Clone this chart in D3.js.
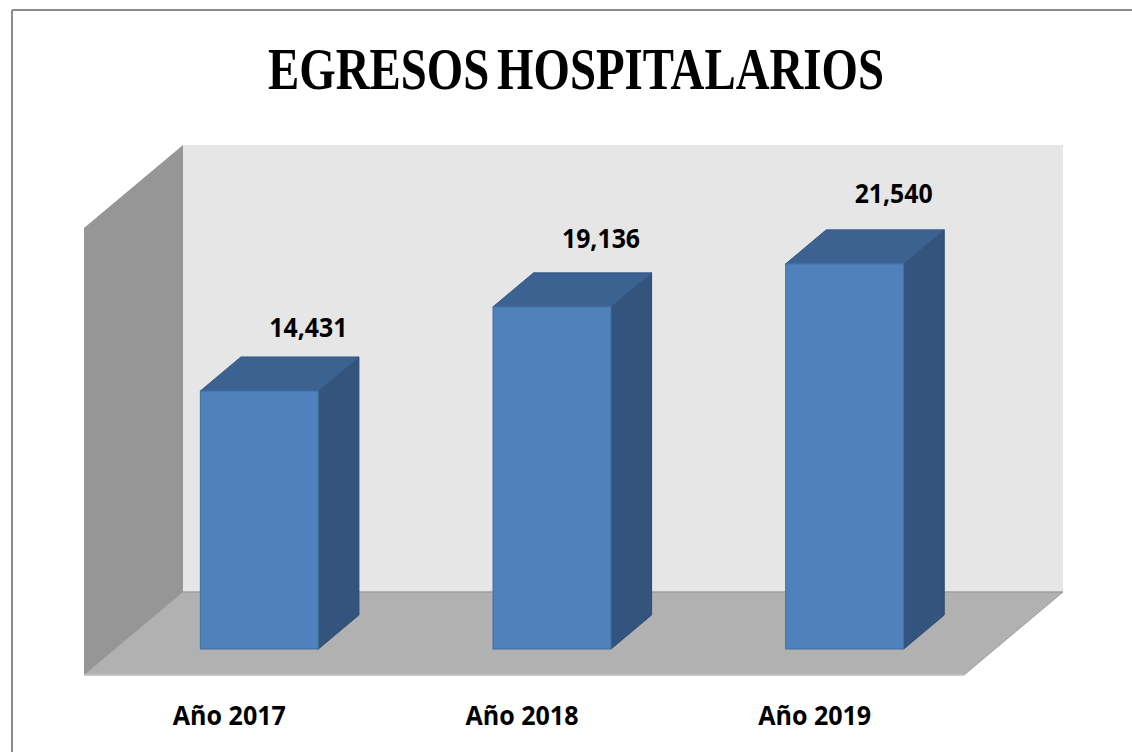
<!DOCTYPE html>
<html>
<head>
<meta charset="utf-8">
<script src="https://cdn.jsdelivr.net/npm/d3@7"></script>
<style>
  html, body { margin: 0; padding: 0; background: #ffffff; }
  svg { display: block; }
</style>
</head>
<body>
<svg id="chart" width="1132" height="752"></svg>
<script>
// ---- data ----
const categories = ["Año 2017", "Año 2018", "Año 2019"];
const values = [14431, 19136, 21540];
const valueLabels = ["14,431", "19,136", "21,540"];
const title = "EGRESOS HOSPITALARIOS";
const axisMax = 25000;

// ---- geometry ----
const W = 1132, H = 752;
const svg = d3.select("#chart");

const frontLeft = 84, frontRight = 964, frontY = 675;
const depthDx = 99, depthDy = -83;
const backLeft = frontLeft + depthDx, backRight = frontRight + depthDx, backY = frontY + depthDy;

const yBack = d3.scaleLinear().domain([0, axisMax]).range([backY, 145]);
const pxPerUnit = (yBack(0) - yBack(1));

const f0 = 26 / 83, f1 = 60 / 83;
const barW = 118;

const x = d3.scalePoint().domain(categories).range([82, 960]).padding(0.5);
const labelY = d3.scaleLinear().domain([0, axisMax]).range([609, 138]);

// ---- frame ----
svg.append("line").attr("x1", 12).attr("y1", 10).attr("x2", W).attr("y2", 10)
  .attr("stroke", "#8c8c8c").attr("stroke-width", 2);
svg.append("line").attr("x1", 12).attr("y1", 10).attr("x2", 12).attr("y2", H)
  .attr("stroke", "#8c8c8c").attr("stroke-width", 2);

// ---- title ----
svg.append("text")
  .attr("x", 576).attr("y", 89)
  .attr("text-anchor", "middle")
  .attr("font-family", "'Liberation Serif', 'DejaVu Serif', serif")
  .attr("font-weight", "bold")
  .attr("font-size", 60)
  .attr("word-spacing", -5)
  .attr("textLength", 616)
  .attr("lengthAdjust", "spacingAndGlyphs")
  .attr("fill", "#000")
  .text(title);

// ---- walls ----
const pts = a => a.map(p => p.join(",")).join(" ");
svg.append("polygon")
  .attr("points", pts([[backLeft, yBack(axisMax)], [backRight, yBack(axisMax)], [backRight, backY], [backLeft, backY]]))
  .attr("fill", "#e6e6e6");
svg.append("polygon")
  .attr("points", pts([[frontLeft, yBack(axisMax) - depthDy], [backLeft, yBack(axisMax)], [backLeft, backY], [frontLeft, frontY]]))
  .attr("fill", "#969696");
svg.append("polygon")
  .attr("points", pts([[frontLeft, frontY], [backLeft, backY], [backRight, backY], [frontRight, frontY]]))
  .attr("fill", "#b1b1b1")
  .attr("stroke", "#9e9e9e").attr("stroke-width", 1);
svg.append("line").attr("x1", backLeft).attr("y1", backY).attr("x2", backRight).attr("y2", backY)
  .attr("stroke", "#a0a0a0").attr("stroke-width", 1.2);
svg.append("line").attr("x1", frontLeft).attr("y1", frontY).attr("x2", frontRight).attr("y2", frontY)
  .attr("stroke", "#c8c8c8").attr("stroke-width", 1.5);

// ---- bars ----
const bdx = (f1 - f0) * depthDx;
const bdy = (f1 - f0) * depthDy;
const baseY = frontY + f0 * depthDy;

const bars = svg.append("g").selectAll("g").data(values).join("g");
bars.each(function (v, i) {
  const g = d3.select(this);
  const cx = x(categories[i]) + f0 * depthDx;
  const x0 = cx - barW / 2, x1 = cx + barW / 2;
  const h = v * pxPerUnit;
  const top = baseY - h;
  g.append("polygon")
    .attr("points", pts([[x1, top], [x1 + bdx, top + bdy], [x1 + bdx, baseY + bdy], [x1, baseY]]))
    .attr("fill", "#33547d").attr("stroke", "#2c4a70").attr("stroke-width", 1);
  g.append("polygon")
    .attr("points", pts([[x0, top], [x0 + bdx, top + bdy], [x1 + bdx, top + bdy], [x1, top]]))
    .attr("fill", "#3c6291").attr("stroke", "#36598a").attr("stroke-width", 1);
  g.append("rect")
    .attr("x", x0).attr("y", top).attr("width", barW).attr("height", h)
    .attr("fill", "#4f81bd").attr("stroke", "#41709f").attr("stroke-width", 1);
});

// ---- value labels ----
svg.append("g").selectAll("text").data(values).join("text")
  .attr("x", (v, i) => x(categories[i]) + f0 * depthDx + 49)
  .attr("y", v => labelY(v))
  .attr("text-anchor", "middle")
  .attr("font-family", "'Open Sans', Lato, sans-serif")
  .attr("font-weight", "bold")
  .attr("font-size", 26)
  .attr("textLength", 78)
  .attr("lengthAdjust", "spacingAndGlyphs")
  .attr("fill", "#000")
  .text((v, i) => valueLabels[i]);

// ---- category labels ----
svg.append("g").selectAll("text").data(categories).join("text")
  .attr("x", d => x(d) + 1)
  .attr("y", 725)
  .attr("text-anchor", "middle")
  .attr("font-family", "'Open Sans', Lato, sans-serif")
  .attr("font-weight", "bold")
  .attr("font-size", 27)
  .attr("textLength", 113)
  .attr("lengthAdjust", "spacingAndGlyphs")
  .attr("fill", "#000")
  .text(d => d);
</script>
</body>
</html>
